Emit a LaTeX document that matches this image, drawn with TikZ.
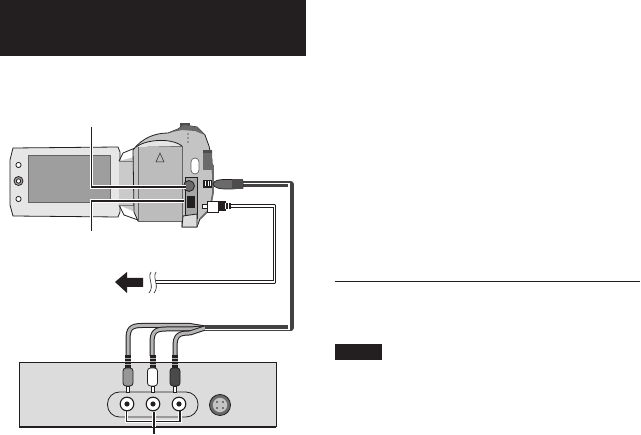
\documentclass[tikz,border=0pt]{standalone}
\usepackage{tikz}
\definecolor{inkblack}{HTML}{231F20}
\definecolor{panelgray}{HTML}{DCDCDC}
\definecolor{bodygray}{HTML}{C4C4C4}
\definecolor{darkgray2}{HTML}{6A6A6A}

\begin{document}
\begin{tikzpicture}[x=1pt,y=-1pt,
  leader/.style={draw=white,line width=3.4pt},
  leaderin/.style={draw=inkblack,line width=1.3pt},
  outline/.style={draw=inkblack,line width=0.8pt}]
  \useasboundingbox (0,0) rectangle (641,435);
  \fill [white] (0,0) rectangle (641,435);

  % heading block and right column
  \fill [inkblack] (0,0) rectangle (306,56);
  \draw [inkblack,line width=1pt] (335,281.5) -- (640,281.5);
  \fill [inkblack] (335,344) rectangle (382,360);

  % lcd panel
  \draw [outline,fill=panelgray!70] (13,148) -- (118,147) -- (120,152) -- (120,212) -- (118,217) -- (13,216) -- (10,205) -- (10,160) -- cycle;
  \fill [darkgray2!65] (28,155) rectangle (110,202);
  \draw [inkblack!70,line width=0.4pt] (28,155) rectangle (110,202);
  \draw [outline,fill=white] (18.5,165) circle (2.6);
  \draw [outline,fill=white] (18.5,199) circle (2.6);
  \draw [outline,fill=darkgray2!60] (18.5,181) circle (4.5);
  \draw [outline,fill=white] (18.5,181) circle (2.2);

  % hinge
  \fill [bodygray!90] (119,161) -- (135,157) -- (135,212) -- (119,205) -- cycle;
  \draw [outline] (119,161) -- (123,153) -- (135,148);
  \draw [outline] (119,205) -- (124,215) -- (138,220);
  \draw [inkblack!60,line width=0.4pt] (119,161) -- (135,161);
  \draw [inkblack!60,line width=0.4pt] (119,205) -- (135,205);

  % camera body
  \draw [outline,fill=bodygray] (133,150) .. controls (142,138) and (155,133) .. (168,133)
    -- (178,129) -- (184,125) -- (197,127) -- (205,135) -- (209,146) -- (212,160) -- (213,193)
    -- (210,209) -- (200,219) -- (197,227) -- (182,227) -- (182,221) -- (138,221) -- (134,212) -- cycle;
  \fill [inkblack!80] (180,123) rectangle (190,127);
  \fill [darkgray2] (168,133) -- (178,129) -- (184,125) -- (197,127) -- (205,135) -- (195,131) -- (182,130) -- cycle;
  \draw [darkgray2,line width=1.6pt] (213,165) -- (213,193) -- (210,209) -- (200,219);
  % battery
  \draw [inkblack!70,line width=0.5pt,fill=darkgray2!45] (138,146) -- (182,146) -- (182,221) -- (138,221) -- cycle;
  \fill [white!90!black] (136,147) .. controls (145,140) and (170,137) .. (182,146) -- cycle;
  \draw [outline] (136,147) .. controls (145,140) and (170,137) .. (182,146);
  \draw [inkblack,line width=0.5pt] (160,153) -- (156,162) -- (164,162) -- cycle;
  % top dots and side switches
  \foreach \doty in {134,138,142} {
    \fill [inkblack!70] (188,\doty) circle (0.9);
  }
  \draw [inkblack!70,line width=0.7pt,fill=white,rounded corners=4pt] (191,158) rectangle (199,174);
  \fill [darkgray2] (203,152) -- (212,150) -- (212,170) -- (203,170) -- cycle;
  \fill [inkblack!80] (203,150) rectangle (212,153);
  % connector door
  \draw [outline,fill=darkgray2!60] (185,177) -- (197,177) -- (197,218) -- (185,218) -- cycle;
  \draw [outline,fill=darkgray2] (189,186) circle (5.5);
  \fill [inkblack] (187,196) rectangle (195,208);
  \draw [outline,fill=panelgray] (183,216) -- (197,214) -- (197,227) -- (182,227) -- cycle;
  \fill [inkblack] (203,180) rectangle (212,188);
  \foreach \ribx in {205,207.5,210} {
    \fill [white] (\ribx,181.5) rectangle +(1.2,5);
  }

  % leader lines
  \coordinate (jackdv) at (186,187);
  \coordinate (jackusb) at (184,201);
  \draw [leader] (91.5,127) -- (91.5,187) -- (jackdv);
  \draw [leaderin] (91.5,127) -- (91.5,187) -- (jackdv);
  \draw [leader] (91.5,231) -- (91.5,201) -- (jackusb);
  \draw [leaderin] (91.5,231) -- (91.5,201) -- (jackusb);

  % av cable, three leads merge into one
  \coordinate (avtop) at (240,184.5);
  \coordinate (avcorner) at (290.5,184.5);
  \coordinate (avbottom) at (290.5,328);
  \coordinate (avmerge) at (205,328);
  \foreach \leadx/\leady in {128/325.5,152/329,175/333} {
    \draw [inkblack,line width=5pt] (\leadx,356) -- (\leadx,\leady+14) .. controls (\leadx,\leady+3) and (\leadx+3,\leady) .. (\leadx+14,\leady) -- (190,\leady) -- (avmerge);
    \draw [darkgray2!50,line width=3pt] (\leadx,356) -- (\leadx,\leady+14) .. controls (\leadx,\leady+3) and (\leadx+3,\leady) .. (\leadx+14,\leady) -- (190,\leady) -- (avmerge);
  }
  \draw [inkblack!85,line width=6pt,line join=round] (avtop) -- (avcorner) -- (avbottom) -- (avmerge);
  \draw [white,line width=1.2pt] (240,183.5) -- (289,183.5) -- (289,329.8) -- (205,329.8);

  % av plug at the camera
  \fill [darkgray2,draw=inkblack,line width=0.7pt] (213,184) .. controls (214,180) and (220,179.5) .. (225,179.5) -- (232,179.5) -- (243,181) -- (243,188) -- (232,189) -- (225,189) .. controls (220,189) and (214,188) .. (213,184) -- cycle;
  \fill [inkblack!80] (232,179.5) rectangle (243,189);

  % video plug at the camera and its cable
  \coordinate (videoplug) at (230,206);
  \coordinate (videocorner) at (274.5,206);
  \coordinate (videobottom) at (274.5,282);
  \coordinate (videobreak) at (156,282);
  \draw [inkblack,line width=3.2pt,line join=round] (videoplug) -- (videocorner) -- (videobottom) -- (videobreak);
  \draw [white,line width=1.4pt,line join=round] (videoplug) -- (videocorner) -- (videobottom) -- (videobreak);
  \draw [outline,fill=white] (202,204) rectangle (207,208.5);
  \draw [outline,fill=white] (207,201) rectangle (218,212);
  \fill [inkblack] (218,201.5) rectangle (226,211.5);
  \fill [inkblack] (226,203) rectangle (231,209);
  \foreach \ribx in {225,227.5} {
    \fill [white] (\ribx,203) rectangle +(0.7,6);
  }

  % cable break and arrow
  \fill [white] (150,271) rectangle (156,294);
  \draw [inkblack,line width=0.6pt] (151,272) .. controls (147,278) and (155,286) .. (149,293);
  \draw [inkblack,line width=0.6pt] (156,272) .. controls (152,278) and (160,286) .. (154,293);
  \fill [inkblack] (115,282) -- (127,272) -- (127,278) -- (143,278) -- (143,287) -- (127,287) -- (127,293) -- cycle;

  % tv panel
  \fill [panelgray] (19,362) rectangle (276,427);
  \draw [inkblack,line width=0.6pt] (19,427) -- (19,362) -- (276,362) -- (276,427);
  \draw [inkblack,line width=1.8pt] (19,427) -- (276,427);
  \draw [outline,rounded corners=12pt] (107.5,392) rectangle (198,417);

  % plugs at the tv
  \foreach \plugx/\plugcol in {128/darkgray2!70,152.5/white,175/darkgray2!70!black} {
    \fill [inkblack] (\plugx-3,355) rectangle (\plugx+3,368);
    \foreach \ribstep in {358,361,364} {
      \fill [white!70!black] (\plugx-3,\ribstep) rectangle (\plugx+3,\ribstep+0.8);
    }
    \draw [outline,fill=\plugcol,rounded corners=3pt] (\plugx-5,368) rectangle (\plugx+5,386);
    \draw [inkblack,line width=0.5pt,fill=white] (\plugx-1.5,386) rectangle (\plugx+1.5,392);
  }

  % jacks with bracket
  \coordinate (brackettop) at (154,412);
  \coordinate (bracketend) at (154,434);
  \draw [draw=white,line width=3.8pt] (126.5,410) -- (126.5,421.5) -- (180,421.5) -- (180,410);
  \draw [inkblack,line width=1.7pt] (126.5,410) -- (126.5,421.5) -- (180,421.5) -- (180,410);
  \draw [draw=white,line width=3.8pt] (brackettop) -- (154,427);
  \draw [inkblack,line width=1.7pt] (brackettop) -- (bracketend);
  \foreach \jackx in {127,153,179} {
    \draw [inkblack,line width=1.1pt,fill=white] (\jackx,404) circle (6.8);
    \fill [inkblack] (\jackx,404) circle (2.6);
  }
  \draw [inkblack,line width=0.8pt,fill=darkgray2] (220,405) circle (10.5);
  \fill [bodygray] (220,405) circle (7.2);
  \foreach \pinx/\piny in {217/402,223/402,217/408,223/408} {
    \fill [inkblack] (\pinx,\piny) circle (0.9);
  }
\end{tikzpicture}
\end{document}
